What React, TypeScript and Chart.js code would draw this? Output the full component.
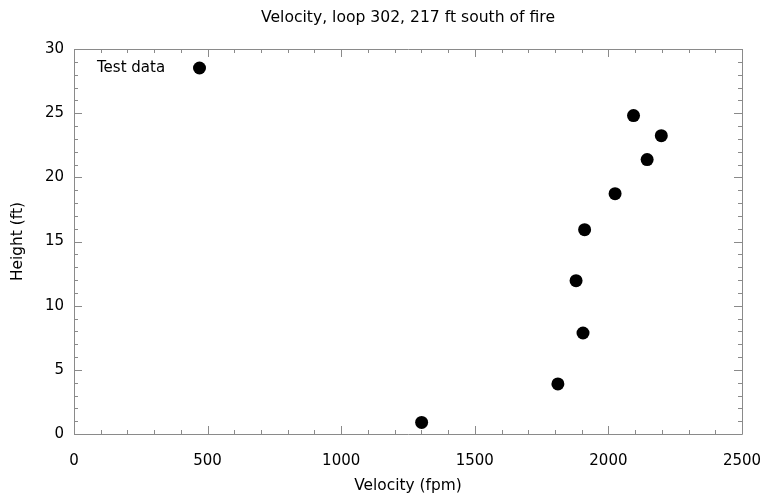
import React, { useEffect, useRef } from "react";
import { Chart, registerables } from "chart.js";

Chart.register(...registerables);

const TITLE = "Velocity, loop 302, 217 ft south of fire";
const X_TITLE = "Velocity (fpm)";
const Y_TITLE = "Height (ft)";
const SERIES_LABEL = "Test data";

const velocity = [1301, 1811, 1905, 1879, 1911, 2025, 2145, 2198, 2094];
const height = [0.9, 3.9, 7.87, 11.95, 15.92, 18.73, 21.38, 23.25, 24.81];

const X_MIN = 0;
const X_MAX = 2500;
const X_MAJOR = 500;
const X_MINOR = 100;
const Y_MIN = 0;
const Y_MAX = 30;
const Y_MAJOR = 5;
const Y_MINOR = 1;

const FONT = "'DejaVu Sans', Verdana, sans-serif";
const FRAME = "#8a8a8a";

const framePlugin = {
  id: "frameTicks",
  afterDraw(chart: any) {
    const { ctx, chartArea } = chart;
    const { left, right, top, bottom } = chartArea;
    const xs = chart.scales.x;
    const ys = chart.scales.y;
    ctx.save();
    ctx.strokeStyle = FRAME;
    ctx.lineWidth = 1;
    ctx.beginPath();
    ctx.rect(Math.round(left) + 0.5, Math.round(top) + 0.5, Math.round(right - left), Math.round(bottom - top));
    ctx.stroke();
    ctx.beginPath();
    for (let v = X_MIN; v <= X_MAX + 1e-9; v += X_MINOR) {
      const px = Math.round(xs.getPixelForValue(v)) + 0.5;
      const len = Math.abs(v % X_MAJOR) < 1e-9 ? 8 : 4;
      ctx.moveTo(px, bottom);
      ctx.lineTo(px, bottom - len);
      ctx.moveTo(px, top);
      ctx.lineTo(px, top + len);
    }
    for (let v = Y_MIN; v <= Y_MAX + 1e-9; v += Y_MINOR) {
      const py = Math.round(ys.getPixelForValue(v)) + 0.5;
      const len = Math.abs(v % Y_MAJOR) < 1e-9 ? 8 : 4;
      ctx.moveTo(left, py);
      ctx.lineTo(left + len, py);
      ctx.moveTo(right, py);
      ctx.lineTo(right - len, py);
    }
    ctx.stroke();

    // title
    ctx.fillStyle = "#000";
    ctx.font = `15.6px ${FONT}`;
    ctx.textAlign = "center";
    ctx.textBaseline = "middle";
    ctx.fillText(TITLE, (left + right) / 2, 18);

    // legend
    ctx.font = `15px ${FONT}`;
    ctx.textAlign = "left";
    ctx.fillText(SERIES_LABEL, left + 23, top + 19);
    ctx.beginPath();
    ctx.arc(left + 125.5, top + 19, 6.5, 0, Math.PI * 2);
    ctx.fill();
    ctx.restore();
  },
};

export default function App() {
  const ref = useRef<HTMLCanvasElement | null>(null);
  useEffect(() => {
    document.body.style.margin = "0";
    const canvas = ref.current!;
    const chart = new Chart(canvas, {
      type: "scatter",
      data: {
        datasets: [
          {
            label: SERIES_LABEL,
            data: velocity.map((v, i) => ({ x: v, y: height[i] })),
            backgroundColor: "#000",
            borderColor: "#000",
            pointRadius: 6.5,
            pointHoverRadius: 6.5,
            borderWidth: 0,
          },
        ],
      },
      options: {
        animation: false,
        responsive: false,
        maintainAspectRatio: false,
        layout: { padding: { top: 49, right: 22, left: 0, bottom: 0 } },
        plugins: {
          legend: { display: false },
          title: { display: false },
          tooltip: { enabled: false },
        },
        scales: {
          x: {
            type: "linear",
            min: X_MIN,
            max: X_MAX,
            border: { display: false },
            grid: { display: false, drawTicks: false },
            ticks: {
              stepSize: X_MAJOR,
              color: "#000",
              font: { family: FONT, size: 15 },
              padding: 18,
              maxRotation: 0,
              callback: (v: any) => String(v),
            },
            title: {
              display: true,
              text: X_TITLE,
              color: "#000",
              font: { family: FONT, size: 15.4 },
              padding: { top: 0, bottom: 0 },
            },
            afterFit: (s: any) => {
              s.height = 61;
              s.paddingLeft = 0;
              s.paddingRight = 0;
            },
          },
          y: {
            type: "linear",
            min: Y_MIN,
            max: Y_MAX,
            border: { display: false },
            grid: { display: false, drawTicks: false },
            ticks: {
              stepSize: Y_MAJOR,
              color: "#000",
              font: { family: FONT, size: 15 },
              padding: 10,
              callback: (v: any) => String(v),
            },
            title: {
              display: true,
              text: Y_TITLE,
              color: "#000",
              font: { family: FONT, size: 15.4 },
              padding: { top: 9, bottom: 0 },
            },
            afterFit: (s: any) => {
              s.width = 74;
              s.paddingTop = 0;
              s.paddingBottom = 0;
            },
          },
        },
      },
      plugins: [framePlugin],
    });
    return () => chart.destroy();
  }, []);
  return (
    <div style={{ position: "fixed", left: 0, top: 0, width: 764, height: 495, background: "#fff" }}>
      <canvas ref={ref} width={764} height={495} style={{ width: 764, height: 495 }} />
    </div>
  );
}
